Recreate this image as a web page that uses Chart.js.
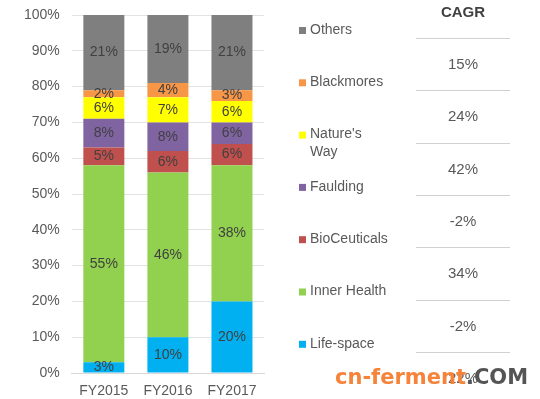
<!DOCTYPE html>
<html>
<head>
<meta charset="utf-8">
<script src="https://cdn.jsdelivr.net/npm/chart.js@4.4.0/dist/chart.umd.min.js"></script>
<style>
  html, body { margin: 0; padding: 0; background: #fff; }
  #wrap { position: relative; width: 540px; height: 399px; }
</style>
</head>
<body>
<div id="wrap"><canvas id="shareChart" width="540" height="399"></canvas></div>
<script>
// chart data
const years = ['FY2015', 'FY2016', 'FY2017'];
const lifeSpace = [3, 10, 20];
const innerHealth = [55, 46, 38];
const bioCeuticals = [5, 6, 6];
const faulding = [8, 8, 6];
const naturesWay = [6, 7, 6];
const blackmores = [2, 4, 3];
const others = [21, 19, 21];
const cagrValues = ['15%', '24%', '42%', '-2%', '34%', '-2%', '22%'];

const FONT = '"Liberation Sans", Arial, sans-serif';

// draws value labels in the middle of each segment
const segmentLabels = {
  id: 'segmentLabels',
  afterDatasetsDraw(chart) {
    const ctx = chart.ctx;
    ctx.save();
    ctx.font = '14px ' + FONT;
    ctx.fillStyle = '#404040';
    ctx.textAlign = 'center';
    ctx.textBaseline = 'middle';
    chart.data.datasets.forEach((ds, i) => {
      const meta = chart.getDatasetMeta(i);
      meta.data.forEach((bar, j) => {
        const mid = (bar.y + bar.base) / 2;
        ctx.fillText(ds.data[j] + '%', bar.x, mid);
      });
    });
    ctx.restore();
  }
};

// legend on the right plus the CAGR column and the watermark
const sidePanel = {
  id: 'sidePanel',
  afterDraw(chart) {
    const ctx = chart.ctx;
    const step = 52.3;
    ctx.save();

    // legend, top item is the last dataset
    const sets = chart.data.datasets.slice().reverse();
    ctx.font = '14px ' + FONT;
    ctx.textBaseline = 'middle';
    ctx.textAlign = 'left';
    sets.forEach((ds, i) => {
      const y = 30 + i * step;
      ctx.fillStyle = ds.backgroundColor;
      ctx.fillRect(299, y - 3, 7, 7);
      ctx.fillStyle = '#595959';
      const lines = Array.isArray(ds.legendText) ? ds.legendText : [ds.label];
      lines.forEach((t, k) => ctx.fillText(t, 310, y + k * 18));
    });

    // CAGR column
    ctx.textAlign = 'center';
    ctx.fillStyle = '#404040';
    ctx.font = 'bold 15px ' + FONT;
    ctx.fillText('CAGR', 463, 13);
    ctx.strokeStyle = '#d0d0d0';
    ctx.lineWidth = 1;
    for (let i = 0; i < 7; i++) {
      const ly = Math.round(38 + i * step) + 0.5;
      ctx.beginPath();
      ctx.moveTo(416, ly);
      ctx.lineTo(510, ly);
      ctx.stroke();
    }
    ctx.font = '15px ' + FONT;
    ctx.fillStyle = '#595959';
    cagrValues.forEach((v, i) => {
      ctx.fillText(v, 463, 65 + i * step);
    });

    // watermark
    ctx.textAlign = 'left';
    ctx.textBaseline = 'alphabetic';
    ctx.font = 'bold 21px "DejaVu Sans", sans-serif';
    const part1 = 'cn-ferment';
    ctx.fillStyle = '#f5843a';
    ctx.fillText(part1, 335, 384);
    const w1 = ctx.measureText(part1).width;
    ctx.fillStyle = '#555555';
    ctx.fillText('.COM', 335 + w1, 384);

    ctx.restore();
  }
};

new Chart('shareChart', {
  type: 'bar',
  data: {
    labels: years,
    datasets: [
      { label: 'Life-space', data: lifeSpace, backgroundColor: '#00b0f0' },
      { label: 'Inner Health', data: innerHealth, backgroundColor: '#92d050' },
      { label: 'BioCeuticals', data: bioCeuticals, backgroundColor: '#c0504d' },
      { label: 'Faulding', data: faulding, backgroundColor: '#8064a2' },
      { label: "Nature's Way", legendText: ["Nature's", 'Way'], data: naturesWay, backgroundColor: '#ffff00' },
      { label: 'Blackmores', data: blackmores, backgroundColor: '#f79646' },
      { label: 'Others', data: others, backgroundColor: '#7f7f7f' },
    ],
  },
  options: {
    responsive: false,
    animation: false,
    layout: {
      padding: { left: 12, right: 276, top: 15, bottom: 0 },
    },
    datasets: {
      bar: { barPercentage: 0.64, categoryPercentage: 1, borderWidth: 0 },
    },
    scales: {
      x: {
        stacked: true,
        grid: { display: false, drawTicks: false },
        border: { color: '#d9d9d9' },
        afterFit: (s) => { s.height = 26; },
        ticks: { color: '#595959', font: { family: FONT, size: 14 }, padding: 10 },
      },
      y: {
        stacked: true,
        min: 0,
        max: 100,
        grid: { color: '#e3e3e3', drawTicks: false },
        border: { display: false },
        // keep the plot top at 15px, tick labels may overflow into the margin
        afterFit: (s) => { s.paddingTop = 0; s.paddingBottom = 0; },
        ticks: {
          stepSize: 10,
          padding: 12,
          color: '#595959',
          font: { family: FONT, size: 14 },
          callback: (v) => v + '%',
        },
      },
    },
    plugins: {
      legend: { display: false },
      tooltip: { enabled: false },
    },
  },
  plugins: [segmentLabels, sidePanel],
});
</script>
</body>
</html>
